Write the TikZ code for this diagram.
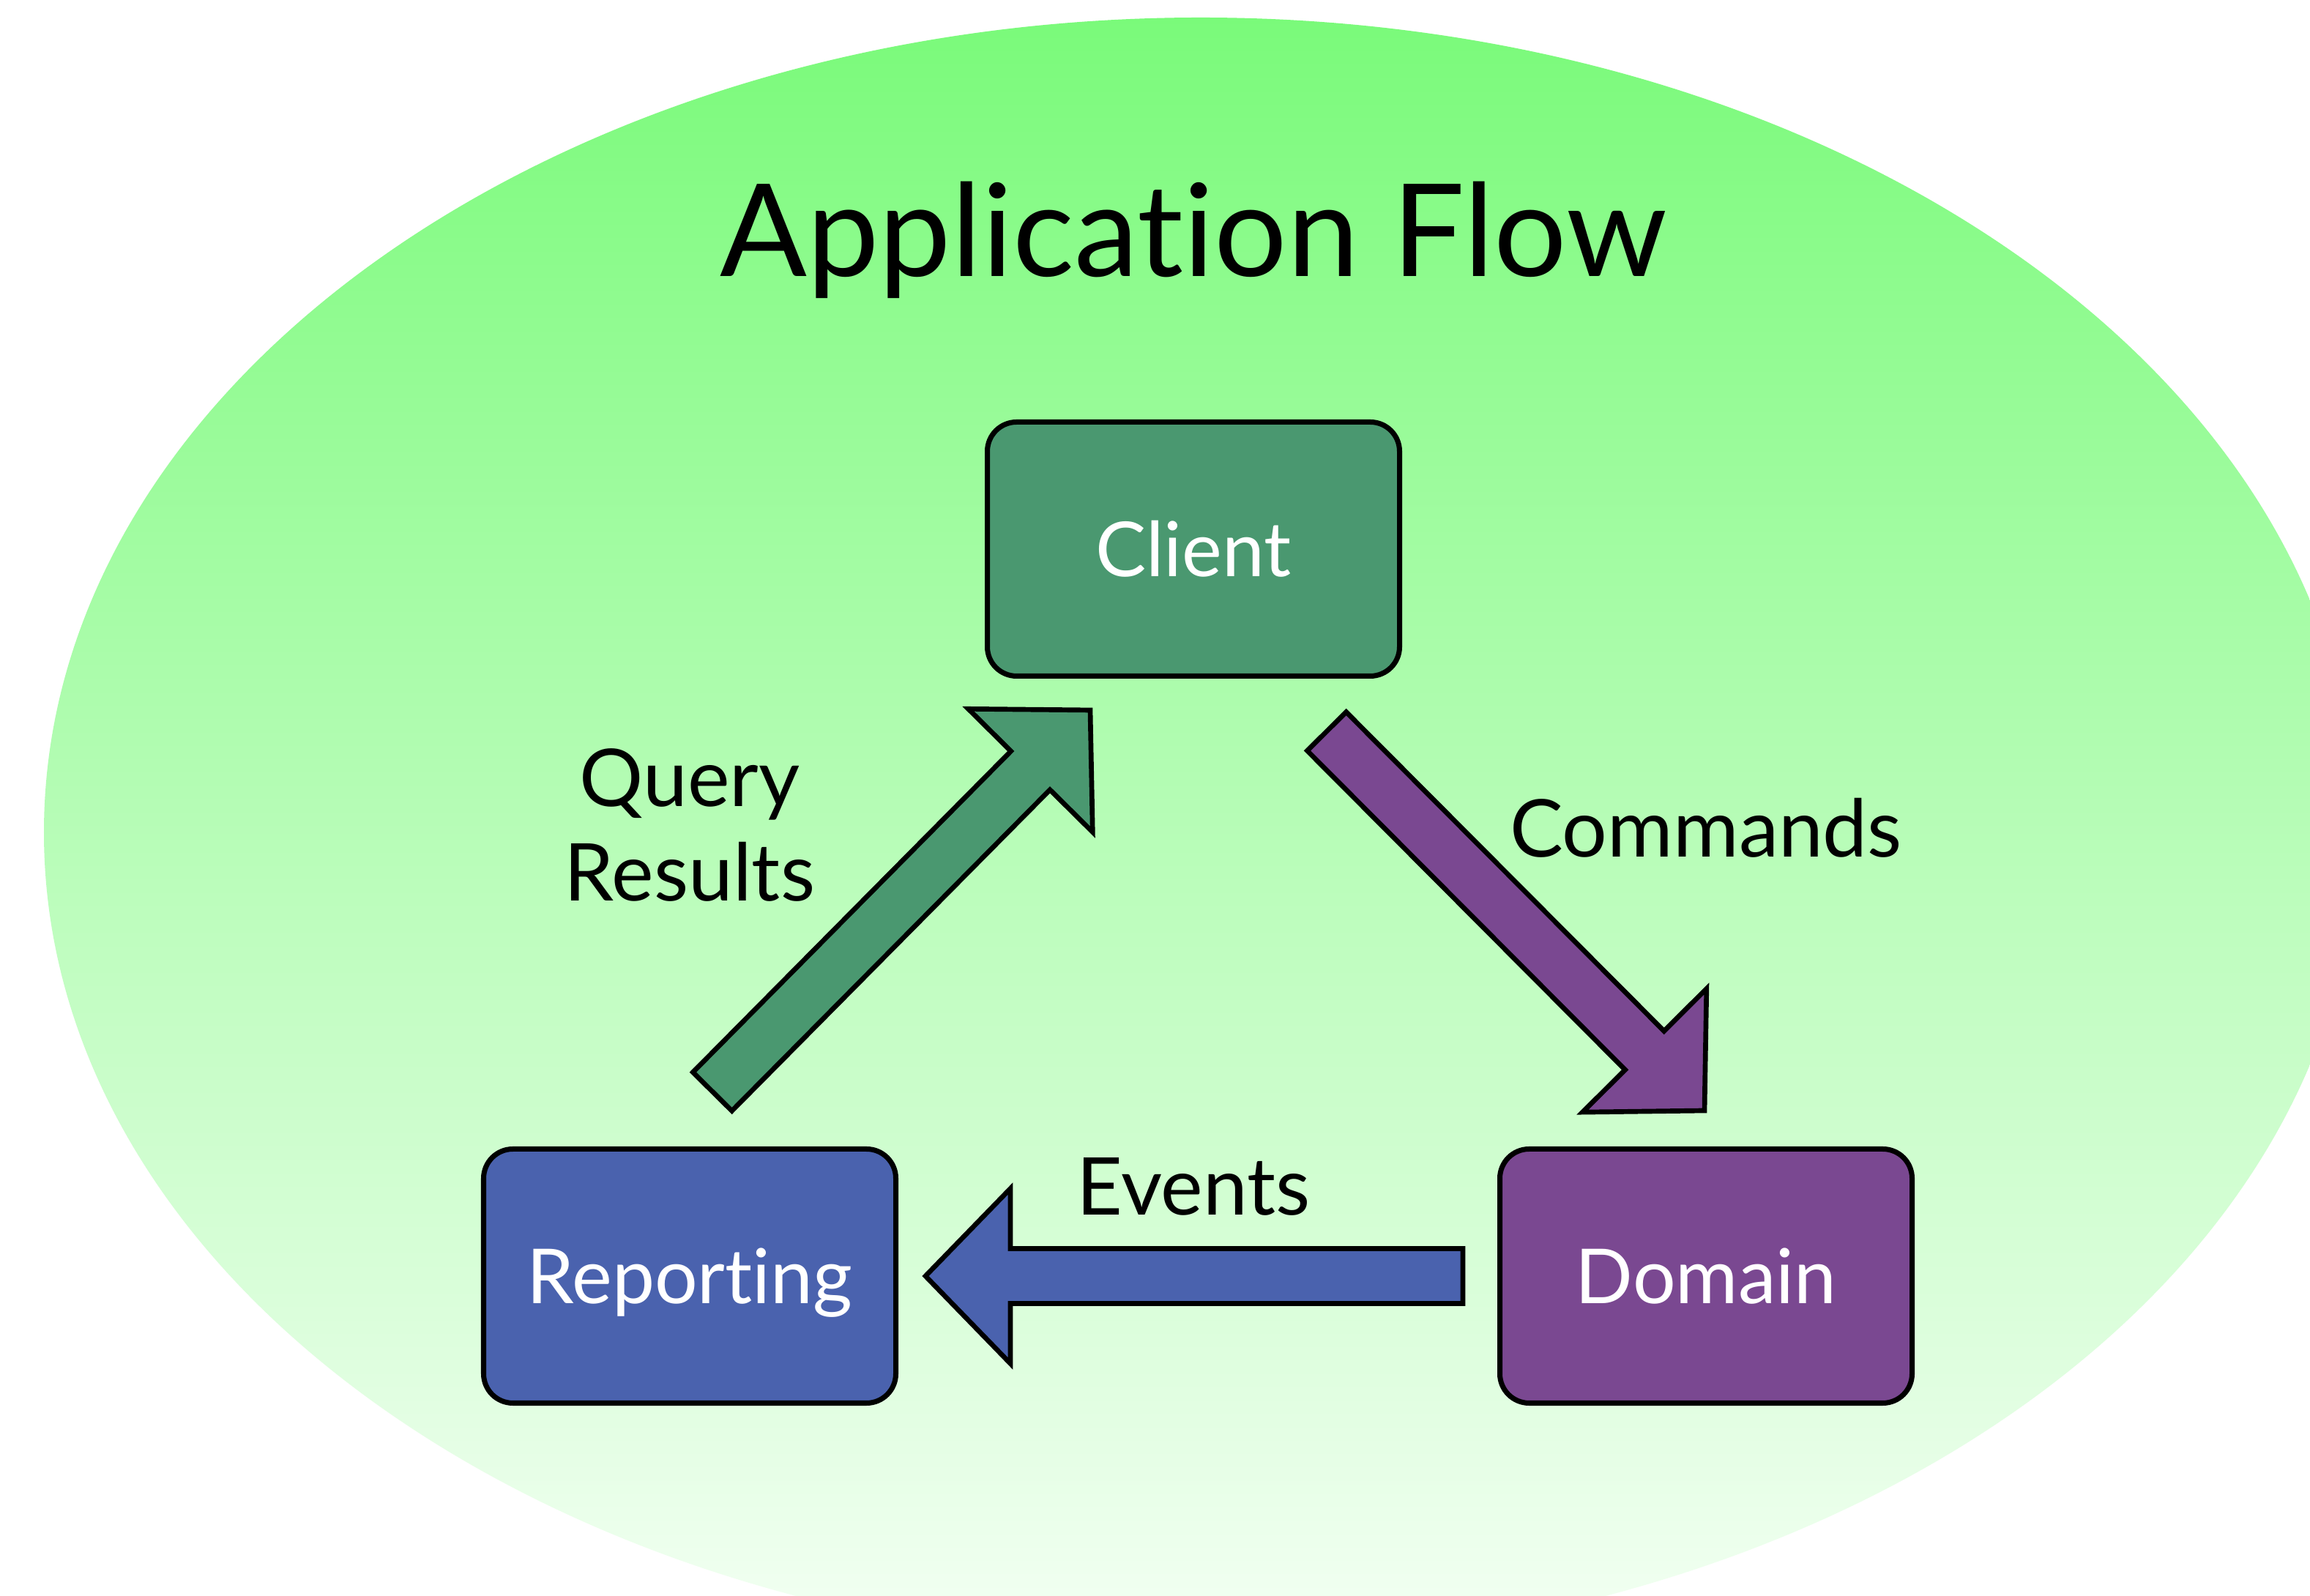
\documentclass[tikz,border=0pt]{standalone}
\usepackage{fontspec}
\setmainfont[Ligatures=NoCommon]{Lato}
\usepackage{tikz}
\usetikzlibrary{calc}
\usetikzlibrary{positioning}

\definecolor{flowtop}{RGB}{122,250,122}
\definecolor{flowbottom}{RGB}{244,255,244}
\definecolor{clientgreen}{RGB}{74,152,112}
\definecolor{reportblue}{RGB}{74,98,174}
\definecolor{domainpurple}{RGB}{122,72,145}

\tikzset{>=latex}
\tikzset{box/.style = {rectangle, rounded corners=0.4cm, draw=black, line width=2pt, minimum width=5.63cm, minimum height=3.47cm, text=white, font=\fontsize{29.5}{36}\selectfont, text height=0.75cm, text depth=0pt, inner sep=0pt}}
\tikzset{lbl/.style = {font=\fontsize{31}{36.7}\selectfont, align=center, inner sep=0pt}}
\tikzset{blockline/.style = {draw=black, line width=1.9pt, line join=miter}}

% block arrow: tail #1, tip #2, fill #3
\newcommand{\blockarrow}[3]{%
  \coordinate (hb) at ($(#2)!1.16cm!(#1)$);
  \filldraw [blockline, fill=#3] ($(#1)!0.375cm!90:(#2)$) -- ($(hb)!0.375cm!-90:(#1)$) -- ($(hb)!1.195cm!-90:(#1)$) -- (#2) -- ($(hb)!1.195cm!90:(#1)$) -- ($(hb)!0.375cm!90:(#1)$) -- ($(#1)!0.375cm!-90:(#2)$) -- cycle;
}

\begin{document}
\begin{tikzpicture}
\useasboundingbox (0, 0) rectangle (31.55, 21.80);
\clip (0, 0) rectangle (31.55, 21.80);
\fill [white] (0, 0) rectangle (31.55, 21.80);
\shade [top color=flowtop, bottom color=flowbottom] (16.40, 10.43) ellipse [x radius=15.80, y radius=11.13];
\node [font=\fontsize{50}{60}\selectfont, anchor=base, inner sep=0pt] (title) at (16.30, 18.02) {Application Flow};
\node [box, fill=clientgreen] (client) at (16.30, 14.30) {Client};
\node [box, fill=reportblue] (reporting) at (9.42, 4.37) {Reporting};
\node [box, fill=domainpurple] (domain) at (23.30, 4.37) {Domain};
% arrow ends
\coordinate (qtail) at (9.73, 6.89);
\coordinate (qtip) at (14.89, 12.10);
\coordinate (ctail) at (18.12, 11.81);
\coordinate (ctip) at (23.28, 6.63);
\coordinate (etail) at (19.98, 4.37);
\coordinate (etip) at (12.64, 4.37);
\blockarrow{qtail}{qtip}{clientgreen}
\blockarrow{ctail}{ctip}{domainpurple}
\blockarrow{etail}{etip}{reportblue}
\node [lbl] (query) at (9.42, 10.53) {Query\\Results};
\node [lbl, anchor=base] (commands) at (23.30, 10.09) {Commands};
\node [lbl, anchor=base] (events) at (16.30, 5.20) {Events};
\end{tikzpicture}
\end{document}
